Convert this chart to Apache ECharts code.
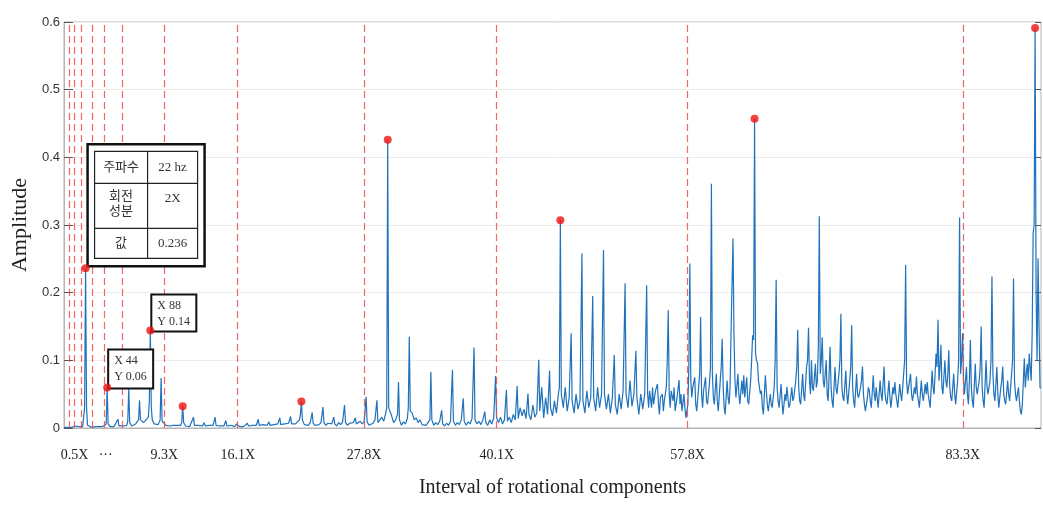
<!DOCTYPE html>
<html><head><meta charset="utf-8">
<script src="https://cdn.jsdelivr.net/npm/echarts@6/dist/echarts.min.js"></script>
<style>html,body{margin:0;padding:0;background:#fff}#c{width:1043px;height:505px}</style>
</head><body><div id="c"></div>
<script>
// Spectrum: [frequency (Hz), amplitude]
const spectrum = [[0,0.001],[2,0.002],[4,0.001],[6,0.002],[8,0.001],[10,0.002],[11,0.003],[13,0.001],[15,0.002],[17,0.001],[19,0.002],[20,0.004],[21,0.03],[22,0.236],[23,0.03],[24,0.004],[26,0.002],[28,0.001],[30,0.003],[32,0.002],[33,0.004],[35,0.002],[37,0.001],[39,0.002],[41,0.002],[43,0.006],[44,0.06],[45,0.006],[47,0.002],[49,0.003],[51,0.002],[53,0.003],[55,0.013],[56,0.003],[58,0.002],[60,0.003],[62,0.002],[64,0.004],[65,0.01],[66,0.058],[67,0.008],[69,0.003],[71,0.004],[73,0.006],[75,0.005],[76,0.012],[77,0.041],[78,0.012],[79,0.014],[81,0.008],[83,0.011],[85,0.01],[86,0.016],[87,0.04],[88,0.144],[89,0.03],[90,0.012],[92,0.006],[94,0.008],[96,0.005],[98,0.012],[99,0.074],[100,0.01],[102,0.008],[104,0.004],[106,0.006],[108,0.003],[110,0.005],[111,0.004],[113,0.003],[115,0.004],[117,0.002],[119,0.004],[120,0.008],[121,0.032],[122,0.008],[124,0.003],[126,0.004],[128,0.002],[130,0.004],[132,0.016],[133,0.004],[135,0.002],[137,0.004],[139,0.002],[141,0.003],[143,0.008],[144,0.003],[146,0.002],[148,0.004],[150,0.002],[152,0.004],[154,0.016],[155,0.004],[157,0.002],[159,0.003],[161,0.005],[163,0.003],[165,0.011],[166,0.003],[168,0.002],[170,0.004],[172,0.003],[174,0.002],[176,0.006],[177,0.004],[179,0.002],[181,0.003],[183,0.002],[185,0.003],[187,0.007],[188,0.003],[190,0.002],[192,0.004],[194,0.003],[196,0.004],[198,0.013],[199,0.004],[201,0.003],[203,0.005],[205,0.003],[207,0.004],[209,0.009],[210,0.004],[212,0.003],[214,0.005],[216,0.004],[218,0.006],[220,0.015],[221,0.005],[223,0.003],[225,0.006],[227,0.004],[229,0.007],[231,0.017],[232,0.006],[234,0.004],[236,0.006],[238,0.005],[240,0.012],[241,0.02],[242,0.039],[243,0.012],[245,0.005],[247,0.007],[249,0.004],[251,0.008],[253,0.023],[254,0.007],[256,0.004],[258,0.006],[260,0.005],[262,0.008],[264,0.031],[265,0.008],[267,0.004],[269,0.007],[271,0.005],[273,0.006],[275,0.016],[276,0.006],[278,0.003],[280,0.008],[282,0.005],[284,0.009],[286,0.034],[287,0.008],[289,0.004],[291,0.007],[293,0.005],[295,0.008],[297,0.015],[298,0.006],[300,0.004],[302,0.01],[304,0.006],[306,0.009],[308,0.046],[309,0.009],[311,0.004],[313,0.003],[315,0.007],[317,0.012],[319,0.041],[320,0.008],[322,0.012],[324,0.016],[326,0.01],[328,0.022],[329,0.03],[330,0.426],[331,0.03],[332,0.026],[334,0.018],[336,0.008],[338,0.012],[340,0.02],[341,0.068],[342,0.012],[344,0.004],[346,0.009],[348,0.006],[350,0.014],[351,0.03],[352,0.135],[353,0.025],[355,0.022],[357,0.012],[359,0.015],[361,0.008],[363,0.012],[365,0.005],[367,0.007],[369,0.004],[371,0.006],[373,0.012],[374,0.083],[375,0.012],[377,0.004],[379,0.008],[381,0.005],[383,0.01],[385,0.026],[386,0.006],[388,0.003],[390,0.007],[392,0.004],[394,0.01],[396,0.086],[397,0.01],[399,0.004],[401,0.008],[403,0.005],[405,0.012],[407,0.044],[408,0.01],[410,0.004],[412,0.009],[414,0.006],[416,0.014],[418,0.119],[419,0.012],[421,0.006],[423,0.01],[425,0.005],[427,0.012],[429,0.024],[430,0.008],[432,0.004],[434,0.012],[436,0.006],[438,0.014],[440,0.077],[441,0.015],[443,0.008],[445,0.016],[447,0.006],[449,0.012],[451,0.056],[452,0.01],[454,0.016],[456,0.008],[458,0.02],[460,0.012],[462,0.062],[463,0.014],[465,0.03],[467,0.018],[469,0.028],[471,0.014],[473,0.051],[474,0.02],[476,0.012],[478,0.034],[480,0.016],[482,0.022],[484,0.101],[485,0.025],[487,0.06],[489,0.015],[491,0.045],[493,0.02],[495,0.085],[496,0.03],[498,0.018],[500,0.04],[502,0.022],[504,0.05],[505,0.06],[506,0.307],[507,0.05],[509,0.03],[511,0.06],[513,0.025],[515,0.045],[517,0.14],[518,0.04],[520,0.022],[522,0.05],[524,0.028],[526,0.04],[528,0.258],[529,0.04],[531,0.022],[533,0.055],[535,0.03],[537,0.045],[539,0.195],[540,0.045],[542,0.025],[544,0.06],[546,0.03],[548,0.05],[550,0.263],[551,0.05],[553,0.028],[555,0.05],[557,0.022],[559,0.045],[561,0.108],[562,0.035],[564,0.02],[566,0.05],[568,0.028],[570,0.055],[572,0.214],[573,0.05],[575,0.03],[577,0.07],[579,0.032],[581,0.05],[583,0.114],[584,0.045],[586,0.02],[588,0.05],[590,0.028],[592,0.05],[594,0.211],[595,0.05],[596,0.03],[597,0.055],[599,0.03],[600,0.06],[601,0.035],[603,0.055],[605,0.065],[606,0.035],[607,0.02],[608,0.045],[610,0.05],[611,0.025],[612,0.04],[614,0.06],[615,0.1],[616,0.174],[617,0.05],[618,0.03],[619,0.055],[621,0.04],[622,0.06],[623,0.025],[625,0.045],[627,0.071],[628,0.035],[629,0.05],[630,0.025],[632,0.05],[633,0.03],[634,0.015],[636,0.035],[637,0.09],[638,0.243],[639,0.07],[640,0.045],[641,0.06],[643,0.075],[644,0.035],[645,0.025],[647,0.06],[648,0.08],[649,0.164],[650,0.05],[651,0.03],[652,0.055],[654,0.075],[655,0.04],[656,0.035],[658,0.065],[659,0.09],[660,0.361],[661,0.08],[662,0.045],[663,0.035],[665,0.08],[666,0.04],[667,0.025],[669,0.07],[670,0.09],[671,0.132],[672,0.06],[673,0.03],[674,0.02],[676,0.07],[677,0.045],[678,0.035],[679,0.06],[680,0.14],[682,0.28],[683,0.14],[684,0.07],[685,0.045],[687,0.08],[688,0.05],[689,0.035],[691,0.07],[692,0.05],[693,0.078],[694,0.045],[695,0.06],[696,0.075],[697,0.04],[698,0.035],[700,0.07],[701,0.1],[702,0.137],[703,0.13],[704,0.457],[705,0.11],[706,0.1],[707,0.096],[708,0.07],[709,0.06],[710,0.05],[711,0.055],[712,0.03],[713,0.02],[714,0.05],[715,0.078],[716,0.055],[717,0.035],[718,0.025],[720,0.05],[721,0.035],[722,0.03],[724,0.06],[725,0.1],[726,0.219],[727,0.06],[728,0.04],[729,0.03],[731,0.065],[732,0.04],[733,0.02],[735,0.05],[736,0.04],[737,0.061],[738,0.045],[739,0.03],[740,0.035],[742,0.06],[743,0.04],[744,0.045],[746,0.07],[747,0.09],[748,0.145],[749,0.06],[750,0.04],[751,0.035],[753,0.08],[754,0.05],[755,0.04],[757,0.09],[758,0.1],[759,0.148],[760,0.07],[761,0.05],[762,0.1],[763,0.06],[764,0.055],[766,0.095],[767,0.06],[768,0.07],[769,0.12],[770,0.313],[771,0.08],[772,0.1],[773,0.134],[774,0.07],[775,0.06],[777,0.1],[778,0.05],[779,0.04],[780,0.08],[781,0.12],[782,0.06],[783,0.04],[784,0.03],[786,0.09],[787,0.06],[788,0.05],[790,0.08],[791,0.1],[792,0.169],[793,0.06],[794,0.045],[795,0.04],[797,0.085],[798,0.05],[799,0.035],[801,0.07],[802,0.09],[803,0.152],[804,0.06],[805,0.04],[806,0.03],[808,0.08],[809,0.05],[810,0.045],[812,0.06],[813,0.07],[814,0.091],[815,0.05],[816,0.035],[817,0.025],[819,0.045],[820,0.06],[821,0.055],[822,0.04],[823,0.03],[825,0.078],[826,0.05],[827,0.04],[828,0.06],[829,0.045],[830,0.03],[832,0.07],[833,0.05],[834,0.04],[836,0.091],[837,0.05],[838,0.04],[839,0.035],[841,0.07],[842,0.045],[843,0.03],[845,0.06],[846,0.05],[847,0.068],[848,0.05],[849,0.04],[850,0.03],[852,0.065],[853,0.05],[854,0.04],[856,0.08],[857,0.1],[858,0.241],[859,0.07],[860,0.05],[861,0.05],[863,0.08],[864,0.05],[865,0.04],[867,0.06],[868,0.05],[869,0.076],[870,0.05],[871,0.04],[872,0.03],[874,0.07],[875,0.05],[876,0.04],[878,0.065],[879,0.05],[880,0.068],[881,0.05],[882,0.04],[883,0.03],[885,0.085],[886,0.06],[887,0.05],[889,0.11],[890,0.09],[891,0.16],[892,0.07],[893,0.09],[894,0.123],[895,0.06],[896,0.05],[898,0.1],[899,0.07],[900,0.06],[901,0.08],[902,0.115],[903,0.06],[904,0.045],[905,0.04],[907,0.08],[908,0.05],[909,0.035],[911,0.07],[912,0.1],[913,0.311],[914,0.08],[915,0.1],[916,0.14],[917,0.07],[918,0.05],[920,0.09],[921,0.05],[922,0.035],[923,0.07],[924,0.13],[925,0.06],[926,0.04],[927,0.03],[929,0.095],[930,0.06],[931,0.05],[933,0.07],[934,0.09],[935,0.15],[936,0.06],[937,0.04],[938,0.03],[940,0.1],[941,0.06],[942,0.05],[944,0.07],[945,0.1],[946,0.224],[947,0.08],[948,0.05],[949,0.04],[951,0.09],[952,0.05],[953,0.03],[955,0.06],[956,0.07],[957,0.091],[958,0.05],[959,0.04],[960,0.035],[962,0.07],[963,0.05],[964,0.04],[966,0.08],[967,0.1],[968,0.221],[969,0.07],[970,0.05],[971,0.04],[973,0.06],[974,0.04],[975,0.025],[976,0.02],[977,0.035],[979,0.103],[980,0.06],[981,0.08],[982,0.095],[983,0.07],[984,0.11],[985,0.09],[986,0.07],[987,0.14],[988,0.288],[989,0.3],[990,0.591],[991,0.2],[992,0.1],[993,0.251],[994,0.152],[995,0.06],[996,0.059]];

// Highlighted peaks (red dots)
const markedPeaks = [[22,0.236],[44,0.06],[88,0.144],[121,0.032],[242,0.039],[330,0.426],[506,0.307],[704,0.457],[990,0.591]];

// Dashed harmonic reference lines (Hz)
const harmonicLines = [5.0, 10.5, 17.6, 28.5, 40.7, 59.5, 102.3, 177.1, 305.8, 441.1, 635.8, 916.3];

// X tick labels and where they sit (Hz)
const xTickValues = [10.8, 42.5, 102.3, 177.1, 305.8, 441.1, 635.8, 916.3];
const xTickLabels = ['0.5X', '···', '9.3X', '16.1X', '27.8X', '40.1X', '57.8X', '83.3X'];

// Info table next to the 22 Hz peak
const tablePoint = [22, 0.236];
const tableRows = [['주파수', '22 hz'], ['회전\n성분', '2X'], ['값', '0.236']];

// Data tips
const dataTips = [
  { point: [44, 0.06], lines: ['X 44', 'Y 0.06'] },
  { point: [88, 0.144], lines: ['X 88', 'Y 0.14'] }
];

const serif = "'Liberation Serif','DejaVu Serif',serif";
const tableFont = "'Liberation Serif','Noto Sans CJK KR',serif";

const chart = echarts.init(document.getElementById('c'), null, { renderer: 'canvas' });

function nearestLabel(v) {
  let best = 0, bd = Infinity;
  xTickValues.forEach((t, i) => { const d = Math.abs(t - v); if (d < bd) { bd = d; best = i; } });
  return xTickLabels[best];
}

chart.setOption({
  animation: false,
  backgroundColor: '#fff',
  grid: { left: 64, right: 2, top: 22, bottom: 77, show: true, borderColor: '#b5b5b5', borderWidth: 1 },
  xAxis: {
    type: 'value', min: 0, max: 996,
    name: 'Interval of rotational components', nameLocation: 'middle', nameGap: 50,
    nameTextStyle: { fontFamily: serif, fontSize: 20, color: '#222' },
    axisLine: { show: true, lineStyle: { color: '#b5b5b5' } },
    axisTick: { show: false },
    splitLine: { show: false },
    axisLabel: {
      customValues: xTickValues,
      formatter: (v) => nearestLabel(v),
      fontFamily: serif, fontSize: 14, color: '#222', margin: 20
    }
  },
  yAxis: [{
    type: 'value', min: 0, max: 0.6, interval: 0.1,
    name: 'Amplitude', nameLocation: 'middle', nameGap: 30, nameRotate: 90,
    nameTextStyle: { fontFamily: serif, fontSize: 22, color: '#222' },
    axisLine: { show: true, lineStyle: { color: '#b5b5b5' } },
    axisTick: { show: true, inside: true, length: 9, lineStyle: { color: '#555' } },
    splitLine: { show: true, lineStyle: { color: '#ececec' } },
    axisLabel: {
      formatter: (v) => (v === 0 ? '0' : v.toFixed(1)),
      fontFamily: "'Liberation Sans Narrow','Liberation Sans',sans-serif", fontSize: 13, color: '#333', margin: 4
    }
  }, {
    type: 'value', min: 0, max: 0.6, interval: 0.1, position: 'right',
    axisLine: { show: false },
    axisTick: { show: true, inside: true, length: 6, lineStyle: { color: '#555' } },
    axisLabel: { show: false },
    splitLine: { show: false }
  }],
  series: [{
    type: 'line',
    data: spectrum,
    symbol: 'none',
    sampling: 'none',
    lineStyle: { color: '#1f72bb', width: 1.2 },
    z: 3,
    markLine: {
      silent: true,
      symbol: 'none',
      label: { show: false },
      lineStyle: { color: '#ef4b4b', type: [7, 4], width: 1.2, opacity: 0.85 },
      data: harmonicLines.map(v => ({ xAxis: v }))
    }
  }, {
    type: 'scatter',
    data: markedPeaks,
    symbol: 'circle',
    symbolSize: 8,
    itemStyle: { color: '#ee1111' },
    z: 200
  }]
});

function buildGraphics() {
  const els = [];
  const Z = 100;
  const p = chart.convertToPixel({ xAxisIndex: 0, yAxisIndex: 0 }, tablePoint);
  const tx = p[0], ty = p[1];
  const children = [
    { type: 'rect', z: Z, shape: { x: 2, y: -124, width: 117, height: 122 }, style: { fill: '#fff', stroke: '#111', lineWidth: 2.5 } },
    { type: 'rect', z: Z + 1, shape: { x: 9, y: -117, width: 103, height: 107 }, style: { fill: 'none', stroke: '#222', lineWidth: 1.2 } },
    { type: 'line', z: Z + 1, shape: { x1: 62, y1: -117, x2: 62, y2: -10 }, style: { stroke: '#222', lineWidth: 1.2 } },
    { type: 'line', z: Z + 1, shape: { x1: 9, y1: -85, x2: 112, y2: -85 }, style: { stroke: '#222', lineWidth: 1.2 } },
    { type: 'line', z: Z + 1, shape: { x1: 9, y1: -40, x2: 112, y2: -40 }, style: { stroke: '#222', lineWidth: 1.2 } }
  ];
  const rowY = [-101, -64, -25];
  tableRows.forEach((r, i) => {
    children.push({ type: 'text', z: Z + 2, style: { text: r[0], x: 35.5, y: rowY[i], align: 'center', verticalAlign: 'middle', font: '13px ' + tableFont, fill: '#333', lineHeight: 15 } });
    children.push({ type: 'text', z: Z + 2, style: { text: r[1], x: 87, y: i === 1 ? -70 : rowY[i], align: 'center', verticalAlign: 'middle', font: '13px ' + tableFont, fill: '#333' } });
  });
  els.push({ type: 'group', x: tx, y: ty, children });

  dataTips.forEach((d, k) => {
    const q = chart.convertToPixel({ xAxisIndex: 0, yAxisIndex: 0 }, d.point);
    const h = k === 0 ? 39 : 37;
    els.push({
      type: 'group', x: q[0], y: q[1],
      children: [
        { type: 'rect', z: Z, shape: { x: 1, y: -h + 1, width: 45, height: h }, style: { fill: '#fff', stroke: '#111', lineWidth: 2 } },
        { type: 'text', z: Z + 2, style: { text: d.lines[0], x: 7, y: -h + 12, verticalAlign: 'middle', font: '12px ' + serif, fill: '#333' } },
        { type: 'text', z: Z + 2, style: { text: d.lines[1], x: 7, y: -h + 28, verticalAlign: 'middle', font: '12px ' + serif, fill: '#333' } }
      ]
    });
  });
  chart.setOption({ graphic: { elements: els } });
}
buildGraphics();
</script>
</body></html>
